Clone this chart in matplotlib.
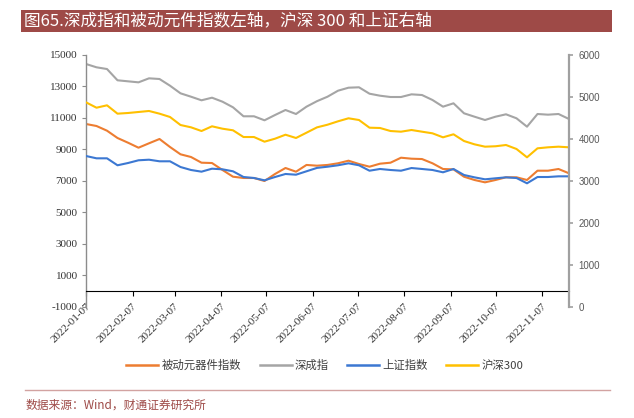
import matplotlib.pyplot as plt
from matplotlib.patches import Rectangle
from matplotlib.lines import Line2D
import numpy as np
import datetime as dt

plt.rcParams['font.family'] = ['Noto Sans CJK SC', 'DejaVu Sans']

# weekly dates, Fridays from 2022-01-07 to 2022-11-25
start = dt.date(2022, 1, 7)
dates = [start + dt.timedelta(days=7 * i) for i in range(47)]

# left axis
passive = [10600, 10473, 10175, 9711, 9413, 9095, 9375, 9648, 9140, 8676,
           8505, 8143, 8122, 7680, 7254, 7172, 7172, 6981, 7426, 7807,
           7572, 8000, 7953, 8000, 8105, 8270, 8060, 7889, 8080, 8143,
           8460, 8397, 8375, 8105, 7743, 7720, 7254, 7045, 6896, 7045,
           7216, 7216, 7045, 7635, 7635, 7743, 7470]
szcz = [14410, 14200, 14090, 13375, 13310, 13245, 13500, 13457, 13032, 12548,
        12333, 12105, 12270, 12016, 11660, 11090, 11090, 10835, 11170, 11490,
        11235, 11700, 12050, 12333, 12714, 12905, 12930, 12524, 12397, 12314,
        12314, 12484, 12440, 12124, 11700, 11914, 11280, 11064, 10854, 11064,
        11216, 10962, 10430, 11235, 11192, 11235, 10917]
# right axis
shzs = [3588, 3533, 3533, 3367, 3421, 3486, 3500, 3462, 3462, 3326,
        3255, 3215, 3286, 3271, 3224, 3088, 3064, 3009, 3088, 3160,
        3143, 3224, 3305, 3333, 3367, 3414, 3367, 3238, 3279, 3255,
        3238, 3302, 3279, 3255, 3200, 3279, 3136, 3080, 3033, 3057,
        3080, 3064, 2938, 3088, 3088, 3104, 3104]
hs300 = [4866, 4738, 4795, 4596, 4612, 4636, 4660, 4596, 4517, 4326,
         4271, 4183, 4295, 4238, 4200, 4040, 4040, 3929, 4000, 4095,
         4017, 4143, 4270, 4333, 4414, 4486, 4445, 4262, 4255, 4183,
         4167, 4207, 4167, 4128, 4033, 4105, 3945, 3866, 3810, 3820,
         3850, 3755, 3557, 3771, 3795, 3810, 3795]

labels = ['被动元器件指数', '深成指', '上证指数', '沪深300']
colors = ['#ED7D31', '#A5A5A5', '#3C78D2', '#FFC000']

fig = plt.figure(figsize=(6.34, 4.18), dpi=100)
ax = fig.add_axes([86 / 634, 1 - 306.7 / 418, 483 / 634, 252 / 418])
ax2 = ax.twinx()

# spines first (moving a spine resets its ticks)
ax.spines['bottom'].set_position(('data', 0))
ax.spines['bottom'].set_color('black')
ax.spines['bottom'].set_linewidth(0.8)
ax.spines['top'].set_visible(False)
ax.spines['right'].set_visible(False)
ax.spines['left'].set_color('#8C8C8C')
ax.spines['left'].set_linewidth(1.0)
for s in ['top', 'bottom', 'left']:
    ax2.spines[s].set_visible(False)
ax2.spines['right'].set_color('#A0A0A0')
ax2.spines['right'].set_linewidth(1.6)

ax.plot(dates, passive, color=colors[0], lw=1.5)
ax.plot(dates, szcz, color=colors[1], lw=1.5)
ax2.plot(dates, shzs, color=colors[2], lw=1.5)
ax2.plot(dates, hs300, color=colors[3], lw=1.5)

ax.set_xlim(dates[0], dates[-1])
ax.set_ylim(-1000, 15000)
ax.set_yticks(np.arange(-1000, 15001, 2000))
ax2.set_ylim(0, 6000)
ax2.set_yticks(np.arange(0, 6001, 1000))

# month ticks on the 7th
ticks = [dt.date(2022, m, 7) for m in range(1, 12)]
ax.set_xticks(ticks)
ax.set_xticklabels([t.strftime('%Y-%m-%d') for t in ticks], rotation=45,
                   ha='right', va='top', rotation_mode='anchor',
                   fontfamily='Liberation Serif', fontsize=8, color='#333333')

ax.set_yticklabels([str(v) for v in np.arange(-1000, 15001, 2000)],
                   fontfamily='Liberation Serif', fontsize=8, color='#333333')
ax2.set_yticklabels([str(v) for v in np.arange(0, 6001, 1000)],
                    fontfamily='Liberation Sans', fontsize=7, color='#595959')

ax.tick_params(axis='x', direction='out', length=3.5, color='black', width=0.8, pad=4)
ax.tick_params(axis='y', direction='out', length=3, color='#8C8C8C', pad=3)
ax2.tick_params(axis='y', direction='out', length=3, color='#A0A0A0', width=1.2, pad=4)

# legend
handles = [Line2D([], [], color=c, lw=1.8) for c in colors]
fig.legend(handles, labels, loc='center', bbox_to_anchor=(325 / 634, 1 - 365 / 418),
           ncol=4, frameon=False, fontsize=8.2, handlelength=2.8, columnspacing=1.6,
           handletextpad=0.3, labelcolor='#404040')

# title bar
fig.patches.append(Rectangle((21 / 634, 1 - 32 / 418), 591 / 634, 22 / 418,
                             transform=fig.transFigure, facecolor='#9E4A47',
                             edgecolor='none'))
fig.text(24 / 634, 1 - 21 / 418, '图65.深成指和被动元件指数左轴，沪深 300 和上证右轴',
         color='white', fontsize=12, va='center', ha='left')

# footer
fig.lines.append(Line2D([25 / 634, 610 / 634], [1 - 390 / 418, 1 - 390 / 418],
                        transform=fig.transFigure, color='#D2A3A1', lw=1))
fig.text(26 / 634, 1 - 405 / 418, '数据来源：Wind，财通证券研究所', color='#9E4A47',
         fontsize=8.5, va='center', ha='left')

fig.savefig('out.png', dpi=100)
